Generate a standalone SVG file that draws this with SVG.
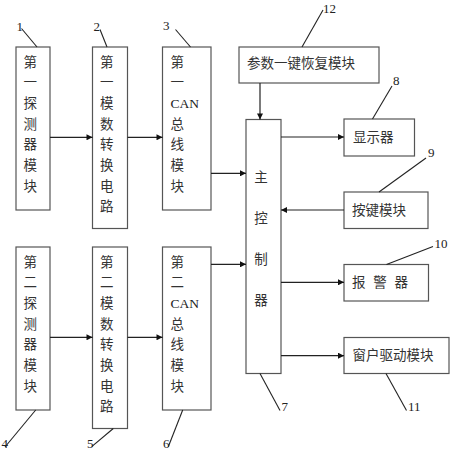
<svg xmlns="http://www.w3.org/2000/svg" width="450" height="450" viewBox="0 0 450 450">
<defs>
<style>
.box{fill:#fff;stroke:#555;stroke-width:1.2}
.cn{font-family:"Noto Sans CJK SC","Noto Sans CJK JP",sans-serif;font-size:13.5px;fill:#333}
.en{font-family:"Liberation Serif",serif;font-size:13.5px;fill:#222}
.num{font-family:"Liberation Serif",serif;font-size:13px;fill:#222}
.ln{stroke:#222;stroke-width:1.2;fill:none}
.lead{stroke:#222;stroke-width:1.1;fill:none}
</style>
<marker id="ah" viewBox="0 0 10 10" refX="10" refY="5" markerWidth="8" markerHeight="6" markerUnits="userSpaceOnUse" orient="auto">
<path d="M0,0 L10,5 L0,10 z" fill="#111"/>
</marker>
</defs>
<rect width="450" height="450" fill="#fff"/>

<g id="n1">
<rect class="box" x="16" y="47" width="34" height="163"/>
<text class="cn" x="23.5" y="66.5"><tspan x="23.5">第</tspan><tspan x="23.5" dy="20.7">一</tspan><tspan x="23.5" dy="20.7">探</tspan><tspan x="23.5" dy="20.7">测</tspan><tspan x="23.5" dy="20.7">器</tspan><tspan x="23.5" dy="20.7">模</tspan><tspan x="23.5" dy="20.7">块</tspan></text>
</g>
<g id="n2">
<rect class="box" x="92.5" y="47" width="35" height="181.5"/>
<text class="cn" x="100" y="66.5"><tspan x="100">第</tspan><tspan x="100" dy="20.7">一</tspan><tspan x="100" dy="20.7">模</tspan><tspan x="100" dy="20.7">数</tspan><tspan x="100" dy="20.7">转</tspan><tspan x="100" dy="20.7">换</tspan><tspan x="100" dy="20.7">电</tspan><tspan x="100" dy="20.7">路</tspan></text>
</g>
<g id="n3">
<rect class="box" x="162.5" y="47" width="48.5" height="163"/>
<text class="cn" x="170.5" y="66.5"><tspan x="170.5">第</tspan><tspan x="170.5" dy="20.7">一</tspan><tspan x="170.5" dy="20.7" class="en">CAN</tspan><tspan x="170.5" dy="20.7">总</tspan><tspan x="170.5" dy="20.7">线</tspan><tspan x="170.5" dy="20.7">模</tspan><tspan x="170.5" dy="20.7">块</tspan></text>
</g>
<g id="n4">
<rect class="box" x="16" y="247" width="34" height="163"/>
<text class="cn" x="23.5" y="266.5"><tspan x="23.5">第</tspan><tspan x="23.5" dy="20.7">二</tspan><tspan x="23.5" dy="20.7">探</tspan><tspan x="23.5" dy="20.7">测</tspan><tspan x="23.5" dy="20.7">器</tspan><tspan x="23.5" dy="20.7">模</tspan><tspan x="23.5" dy="20.7">块</tspan></text>
</g>
<g id="n5">
<rect class="box" x="92.5" y="247" width="35" height="181.5"/>
<text class="cn" x="100" y="266.5"><tspan x="100">第</tspan><tspan x="100" dy="20.7">二</tspan><tspan x="100" dy="20.7">模</tspan><tspan x="100" dy="20.7">数</tspan><tspan x="100" dy="20.7">转</tspan><tspan x="100" dy="20.7">换</tspan><tspan x="100" dy="20.7">电</tspan><tspan x="100" dy="20.7">路</tspan></text>
</g>
<g id="n6">
<rect class="box" x="162.5" y="247" width="48.5" height="163"/>
<text class="cn" x="170.5" y="266.5"><tspan x="170.5">第</tspan><tspan x="170.5" dy="20.7">二</tspan><tspan x="170.5" dy="20.7" class="en">CAN</tspan><tspan x="170.5" dy="20.7">总</tspan><tspan x="170.5" dy="20.7">线</tspan><tspan x="170.5" dy="20.7">模</tspan><tspan x="170.5" dy="20.7">块</tspan></text>
</g>
<g id="n7">
<rect class="box" x="246" y="119.5" width="35" height="254"/>
<text class="cn" x="261" y="182" text-anchor="middle"><tspan x="261">主</tspan><tspan x="261" dy="41">控</tspan><tspan x="261" dy="41">制</tspan><tspan x="261" dy="41">器</tspan></text>
</g>
<g id="n12">
<rect class="box" x="239" y="47" width="140" height="36"/>
<text class="cn" x="247" y="67.5">参数一键恢复模块</text>
</g>
<g id="n8">
<rect class="box" x="344" y="119" width="70.5" height="37"/>
<text class="cn" x="353" y="142">显示器</text>
</g>
<g id="n9">
<rect class="box" x="344" y="192" width="84" height="36.5"/>
<text class="cn" x="352" y="215">按键模块</text>
</g>
<g id="n10">
<rect class="box" x="344" y="264.5" width="84.5" height="36.5"/>
<text class="cn" x="352" y="287" textLength="56" lengthAdjust="spacing">报 警 器</text>
</g>
<g id="n11">
<rect class="box" x="344" y="337.5" width="105" height="36"/>
<text class="cn" x="352.5" y="360">窗户驱动模块</text>
</g>

<g id="connectors">
<line class="ln" x1="50" y1="137.3" x2="92.5" y2="137.3" marker-end="url(#ah)"/>
<line class="ln" x1="127.5" y1="137.3" x2="162.5" y2="137.3" marker-end="url(#ah)"/>
<line class="ln" x1="50" y1="337.3" x2="92.5" y2="337.3" marker-end="url(#ah)"/>
<line class="ln" x1="127.5" y1="337.3" x2="162.5" y2="337.3" marker-end="url(#ah)"/>
<line class="ln" x1="211" y1="173.3" x2="246" y2="173.3" marker-end="url(#ah)"/>
<line class="ln" x1="211" y1="264.3" x2="246" y2="264.3" marker-end="url(#ah)"/>
<line class="ln" x1="260" y1="83" x2="260" y2="119.5" marker-end="url(#ah)"/>
<line class="ln" x1="281" y1="137" x2="344" y2="137" marker-end="url(#ah)"/>
<line class="ln" x1="344" y1="210" x2="281" y2="210" marker-end="url(#ah)"/>
<line class="ln" x1="281" y1="282.3" x2="344" y2="282.3" marker-end="url(#ah)"/>
<line class="ln" x1="281" y1="355.7" x2="344" y2="355.7" marker-end="url(#ah)"/>
</g>

<g id="labels">
<line class="lead" x1="21.5" y1="28.5" x2="37" y2="47"/>
<text class="num" x="16.5" y="31">1</text>
<line class="lead" x1="100" y1="29.5" x2="107" y2="47"/>
<text class="num" x="93.5" y="31">2</text>
<line class="lead" x1="175.5" y1="29.5" x2="190.5" y2="47"/>
<text class="num" x="163" y="30">3</text>
<line class="lead" x1="302" y1="47" x2="323" y2="10"/>
<text class="num" x="323" y="13">12</text>
<line class="lead" x1="372.5" y1="119" x2="392" y2="86"/>
<text class="num" x="393" y="85">8</text>
<line class="lead" x1="379" y1="192" x2="426" y2="158"/>
<text class="num" x="428" y="157">9</text>
<line class="lead" x1="386.5" y1="264.5" x2="433" y2="246.5"/>
<text class="num" x="434.5" y="248">10</text>
<line class="lead" x1="260" y1="373.5" x2="280" y2="410.5"/>
<text class="num" x="281.5" y="411">7</text>
<line class="lead" x1="386" y1="373.5" x2="406.5" y2="410.5"/>
<text class="num" x="408" y="411">11</text>
<line class="lead" x1="35.7" y1="410" x2="5" y2="447"/>
<text class="num" x="1.5" y="448">4</text>
<line class="lead" x1="113.3" y1="428.5" x2="91.7" y2="446.7"/>
<text class="num" x="87" y="448">5</text>
<line class="lead" x1="182.7" y1="410" x2="168.3" y2="446.7"/>
<text class="num" x="163" y="448">6</text>
</g>
</svg>
